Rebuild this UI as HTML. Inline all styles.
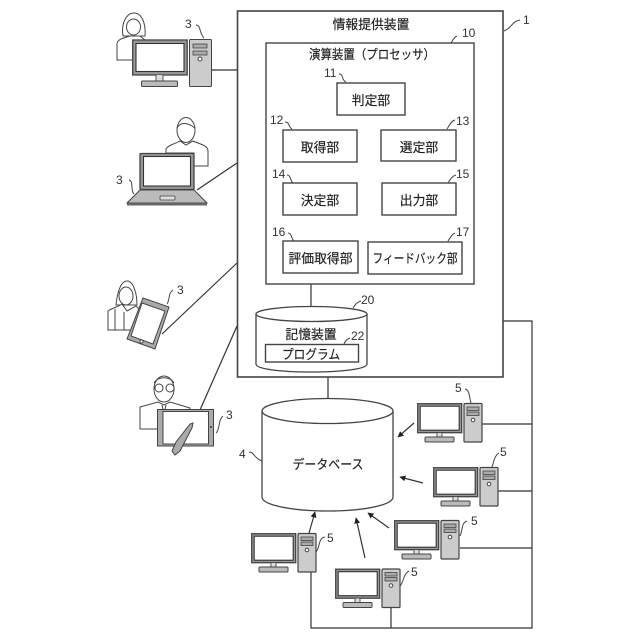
<!DOCTYPE html>
<html><head><meta charset="utf-8"><style>
html,body{margin:0;padding:0;background:#fff;width:640px;height:640px;overflow:hidden}
svg{display:block}
text{font-family:"Liberation Sans","Noto Sans CJK JP",sans-serif;fill:#222}
.j{font-size:12.8px;text-anchor:middle;stroke:#222;stroke-width:.18}
.n{font-size:12px;fill:#333}
.l{fill:none;stroke:#333;stroke-width:1.2}
.b{fill:#fff;stroke:#444;stroke-width:1.4}
.c{fill:none;stroke:#444;stroke-width:1}
</style></head><body>
<svg width="640" height="640" viewBox="0 0 640 640" xmlns="http://www.w3.org/2000/svg">
<defs>
<marker id="a" markerWidth="5" markerHeight="5" refX="4.500" refY="2.500" orient="auto"><path d="M0 0L5 2.500L0 5Z" fill="#222"/></marker>
<g id="pc">
<rect x="0.7" y="0.7" width="44" height="29" fill="#999" stroke="#444" stroke-width="1.3"/>
<rect x="3.2" y="3.2" width="39" height="24" fill="#fff" stroke="#333" stroke-width="1.1"/>
<path d="M20 30v4h5v-4" fill="#ddd" stroke="#555"/>
<rect x="8" y="34" width="29" height="5" rx="1" fill="#bbb" stroke="#444"/>
<rect x="47" y="0.5" width="18" height="38.5" rx="1" fill="#ccc" stroke="#444" stroke-width="1.2"/>
<rect x="50" y="4" width="12" height="3.5" fill="#aaa" stroke="#444" stroke-width=".8"/>
<rect x="50" y="9" width="12" height="3.5" fill="#aaa" stroke="#444" stroke-width=".8"/>
<circle cx="56" cy="17" r="1.8" fill="#fff" stroke="#444"/>
</g>
</defs>
<rect width="640" height="640" fill="#fff"/>

<!-- connectors -->
<path class="l" d="M211 70H237M197 190L237 163M162 334L237 263M200 410L237 326M503 321H532V628H311V571M391 628V607M481 424H532M498 491H532M460 548H532M311 284V307M328 377V398"/>

<!-- main box -->
<rect x="237.5" y="11" width="265.5" height="366" fill="none" stroke="#444" stroke-width="1.6"/>
<rect x="266" y="43" width="208" height="241" fill="none" stroke="#444" stroke-width="1.4"/>
<text class="j" x="371" y="29">情報提供装置</text>
<text class="j" x="372" y="59" textLength="126" lengthAdjust="spacingAndGlyphs">演算装置（プロセッサ）</text>

<rect class="b" x="337" y="83" width="68" height="32"/><text class="j" x="371" y="105">判定部</text>
<rect class="b" x="283" y="130" width="74" height="32"/><text class="j" x="320" y="152">取得部</text>
<rect class="b" x="381" y="130" width="75" height="31"/><text class="j" x="419" y="152">選定部</text>
<rect class="b" x="283" y="183" width="74" height="32"/><text class="j" x="320" y="205">決定部</text>
<rect class="b" x="382" y="183" width="74" height="32"/><text class="j" x="419" y="205">出力部</text>
<rect class="b" x="283" y="241" width="75" height="32"/><text class="j" x="320.500" y="263">評価取得部</text>
<rect class="b" x="368" y="242" width="94" height="32"/><text class="j" x="415" y="263" textLength="85" lengthAdjust="spacingAndGlyphs">フィードバック部</text>

<!-- storage -->
<path d="M256 314V364C256 369 280 372 311 372C342 372 367 369 367 364V314" fill="#fff" stroke="#444" stroke-width="1.3"/>
<ellipse cx="311.500" cy="314" rx="55.500" ry="7.500" fill="#fff" stroke="#444" stroke-width="1.3"/>
<text class="j" x="311" y="339">記憶装置</text>
<rect class="b" x="265.500" y="344.500" width="93" height="17.500"/>
<text class="j" x="311" y="359" textLength="58" lengthAdjust="spacingAndGlyphs">プログラム</text>

<!-- database -->
<path d="M262 411V497C262 505 292 511 328 511C364 511 393 505 393 497V411" fill="#fff" stroke="#444" stroke-width="1.3"/>
<ellipse cx="327.500" cy="411" rx="65.500" ry="12.500" fill="#fff" stroke="#444" stroke-width="1.3"/>
<text class="j" x="328" y="469" textLength="71" lengthAdjust="spacingAndGlyphs">データベース</text>

<!-- ref numbers -->
<g>
<text class="n" x="523" y="24">1</text><path class="c" d="M504 31C511 29 512 21 520 20"/>
<text class="n" x="462" y="37">10</text><path class="c" d="M451 43C453 40 454 37 457 36"/>
<text class="n" x="324" y="77">11</text><path class="c" d="M339 74C344 74 341 80 346 82"/>
<text class="n" x="270" y="124">12</text><path class="c" d="M285 122C290 122 288 127 292 129"/>
<text class="n" x="456" y="125">13</text><path class="c" d="M447 129C449 126 451 121 455 120"/>
<text class="n" x="272" y="178">14</text><path class="c" d="M287 175C291 175 290 181 293 183"/>
<text class="n" x="456" y="178">15</text><path class="c" d="M448 183C450 180 452 176 456 175"/>
<text class="n" x="272" y="236">16</text><path class="c" d="M288 233C292 233 291 239 294 241"/>
<text class="n" x="456" y="236">17</text><path class="c" d="M448 241C450 238 452 234 455 233"/>
<text class="n" x="361" y="304">20</text><path class="c" d="M353 308C355 305 357 302 361 301"/>
<text class="n" x="351" y="340">22</text><path class="c" d="M344 344C345 341 347 339 350 338"/>
<text class="n" x="185" y="28">3</text><path class="c" d="M196 25C201 25 199 33 204 38"/>
<text class="n" x="116" y="184">3</text><path class="c" d="M129 180C134 181 130 190 134 194"/>
<text class="n" x="177" y="294">3</text><path class="c" d="M167 304C170 300 168 293 173 290"/>
<text class="n" x="226" y="419">3</text><path class="c" d="M216 433C220 430 218 420 223 416"/>
<text class="n" x="239" y="458">4</text><path class="c" d="M249 452C254 452 254 458 262 461"/>
<text class="n" x="455" y="392">5</text><path class="c" d="M465 389C470 390 469 397 471 403"/>
<text class="n" x="500" y="456">5</text><path class="c" d="M492 467C494 462 494 456 499 453"/>
<text class="n" x="471" y="525">5</text><path class="c" d="M460 536C463 530 461 523 467 521"/>
<text class="n" x="327" y="542">5</text><path class="c" d="M316 552C320 548 318 538 325 537"/>
<text class="n" x="411" y="576">5</text><path class="c" d="M400 586C404 582 403 574 409 571"/>
</g>

<!-- PCs -->
<use href="#pc" x="417" y="403"/>
<use href="#pc" x="433" y="467"/>
<use href="#pc" x="394" y="520"/>
<use href="#pc" x="335" y="568.500"/>
<use href="#pc" x="251" y="533"/>

<!-- arrows -->
<g fill="none" stroke="#333" stroke-width="1.2">
<path d="M414 423L398 437" marker-end="url(#a)"/>
<path d="M423 483L400 477" marker-end="url(#a)"/>
<path d="M365 558L356 518" marker-end="url(#a)"/>
<path d="M389 528L368 513" marker-end="url(#a)"/>
<path d="M309 533L315 512" marker-end="url(#a)"/>
</g>

<!-- user 1 desktop -->
<path d="M123 36C121 24 126 13 134 13C142 13 146 24 145 36Z" fill="#fff" stroke="#444"/>
<ellipse cx="133.500" cy="27" rx="7" ry="8" fill="#fff" stroke="#444"/>
<path d="M117 60V44C117 39 124 38 130 36H140L145 40H133V60Z" fill="#fff" stroke="#444"/>
<rect x="132.700" y="40" width="54.500" height="35" fill="#999" stroke="#444" stroke-width="1.3"/>
<rect x="136" y="43.500" width="48" height="28" fill="#fff" stroke="#333" stroke-width="1.1"/>
<path d="M156 75v6h7v-6" fill="#ddd" stroke="#555"/>
<rect x="141.500" y="81" width="36" height="5.500" rx="1" fill="#bbb" stroke="#444"/>
<rect x="189.500" y="39.500" width="22" height="47" rx="1" fill="#ccc" stroke="#444"/>
<rect x="193" y="44" width="14" height="4" fill="#aaa" stroke="#444" stroke-width=".8"/>
<rect x="193" y="51" width="14" height="4" fill="#aaa" stroke="#444" stroke-width=".8"/>
<circle cx="200" cy="59" r="2" fill="#fff" stroke="#444"/>

<!-- user 2 laptop -->
<ellipse cx="186" cy="130" rx="9" ry="12.500" fill="#fff" stroke="#444"/>
<path d="M177 128C180 122 187 122 195 128" fill="none" stroke="#444"/>
<path d="M166 153V149C168 145 175 144 180 141L186 145L193 141C199 144 208 145 208 151V166H194V153Z" fill="#fff" stroke="#444"/>
<path d="M127 203L140 190H194L207 203Z" fill="#bbb" stroke="#444"/>
<rect x="127" y="203" width="80" height="2.500" fill="#666"/>
<rect x="160" y="196" width="15" height="4" rx="1" fill="#ddd" stroke="#444" stroke-width=".8"/>
<rect x="140" y="153.500" width="54" height="36" rx="1" fill="#999" stroke="#444" stroke-width="1.3"/>
<rect x="143.500" y="156.500" width="47" height="29.500" fill="#fff" stroke="#333" stroke-width="1.1"/>

<!-- user 3 phone -->
<path d="M116 305C117 295 120 281 127 281C134 281 137 295 137 305Z" fill="#fff" stroke="#444"/>
<ellipse cx="126" cy="296" rx="7" ry="9" fill="#fff" stroke="#444"/>
<path d="M108 330V311C112 308 118 307 122 304L127 311L136 306L140 310L132 330Z" fill="#fff" stroke="#444"/>
<path d="M115 309V330M124 312V330" fill="none" stroke="#444"/>
<path d="M143 298L169 307L155 349L127 339Z" fill="#aaa" stroke="#444"/>
<path d="M142 303L165 311L153 344L131 336Z" fill="#fff" stroke="#444"/>
<circle cx="141.500" cy="341.500" r="1.600" fill="#fff" stroke="#444"/>

<!-- user 4 tablet -->
<ellipse cx="164" cy="389" rx="10" ry="13" fill="#fff" stroke="#444"/>
<path d="M154 383C158 376 170 376 174 383" fill="none" stroke="#444"/>
<circle cx="159" cy="388" r="4" fill="#fff" stroke="#444"/>
<circle cx="170" cy="388" r="4" fill="#fff" stroke="#444"/>
<path d="M140 429V407L158 402L164 405L170 402L190 408V429Z" fill="#fff" stroke="#444"/>
<path d="M162 405L164 414L166 405" fill="none" stroke="#444"/>
<rect x="157.500" y="409.500" width="56" height="36.500" fill="#aaa" stroke="#444"/>
<rect x="163" y="411.500" width="45.500" height="32.500" fill="#fff" stroke="#444"/>
<circle cx="211" cy="427" r="1" fill="#333"/>
<path d="M172 451L176 442L190 424L193 423L192 428L180 451L175 455Z" fill="#aaa" stroke="#444"/>
</svg>
</body></html>
